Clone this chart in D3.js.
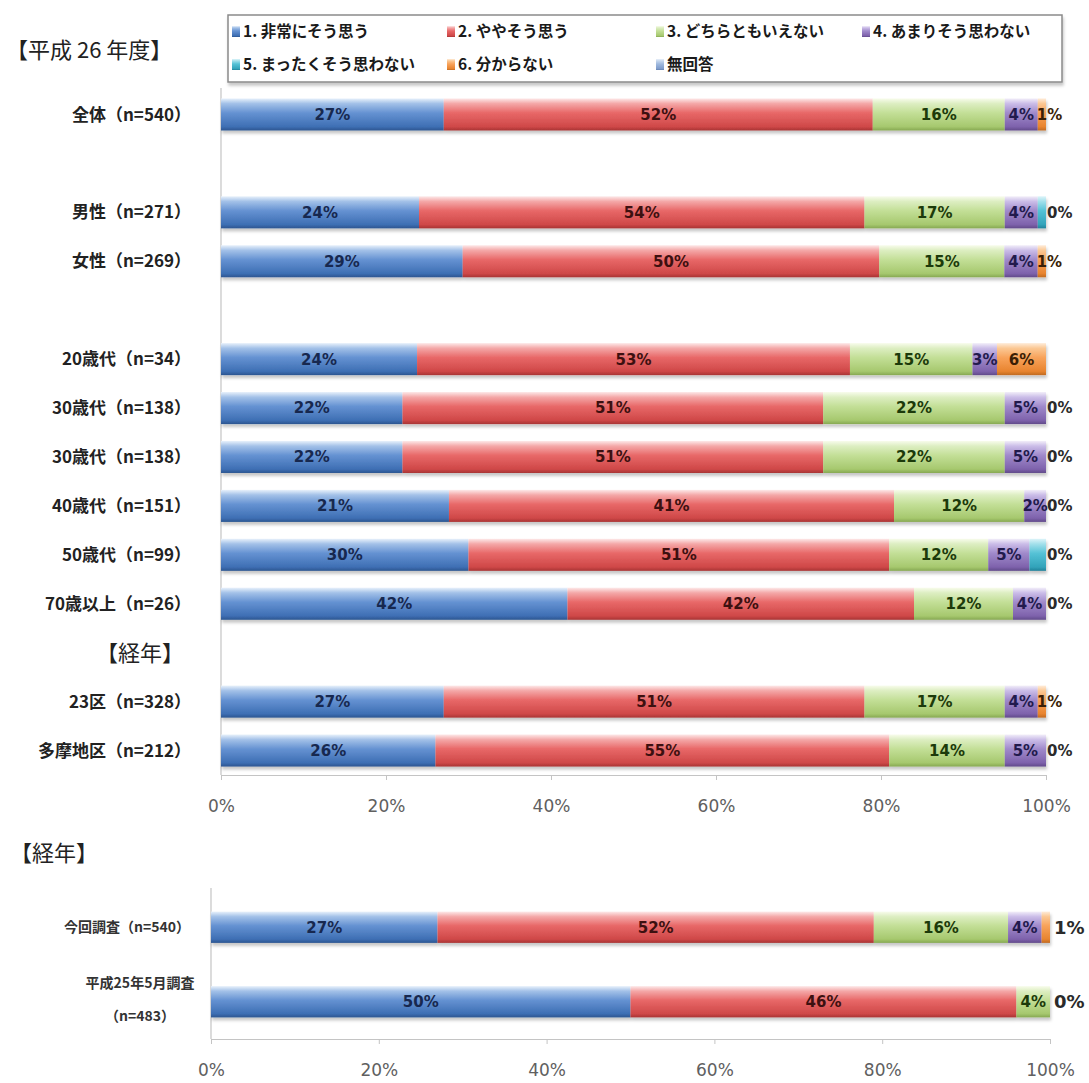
<!DOCTYPE html>
<html>
<head>
<meta charset="utf-8">
<script src="https://cdn.jsdelivr.net/npm/d3@7"></script>
<style>
  body { margin: 0; background: #fff; }
  svg { display: block; }
</style>
</head>
<body>
<svg id="chart" width="1089" height="1083"></svg>
<script>
// Answer options, in stacking / legend order
const seriesNames = ["1.  非常にそう思う", "2.  ややそう思う", "3.  どちらともいえない", "4.  あまりそう思わない",
                     "5.  まったくそう思わない", "6.  分からない", "無回答"];

// 平成26年度 breakdown ("" = spacer row, 【経年】 = sub-heading row)
const topCategories = ["全体（n=540）", "", "男性（n=271）", "女性（n=269）", "", "20歳代（n=34）",
                       "30歳代（n=138）", "30歳代（n=138）", "40歳代（n=151）", "50歳代（n=99）",
                       "70歳以上（n=26）", "【経年】", "23区（n=328）", "多摩地区（n=212）"];
const topVeryMuch    = [27, null, 24, 29, null, 24, 22, 22, 21, 30, 42, null, 27, 26];
const topSomewhat    = [52, null, 54, 50, null, 53, 51, 51, 41, 51, 42, null, 51, 55];
const topNeutral     = [16, null, 17, 15, null, 15, 22, 22, 12, 12, 12, null, 17, 14];
const topNotMuch     = [ 4, null,  4,  4, null,  3,  5,  5,  2,  5,  4, null,  4,  5];
const topNotAtAll    = [ 0, null,  1,  0, null,  0,  0,  0,  0,  2,  0, null,  0,  0];
const topDontKnow    = [ 1, null,  0,  1, null,  6,  0,  0,  0,  0,  0, null,  1,  0];
const topNoAnswer    = [ 0, null,  0,  0, null,  0,  0,  0,  0,  0,  0, null,  0,  0];

// Year-on-year comparison
const yearCategories = [["今回調査（n=540）"], ["平成25年5月調査", "（n=483）"]];
const yearVeryMuch   = [27, 50];
const yearSomewhat   = [52, 46];
const yearNeutral    = [16,  4];
const yearNotMuch    = [ 4,  0];
const yearNotAtAll   = [ 0,  0];
const yearDontKnow   = [ 1,  0];
const yearNoAnswer   = [ 0,  0];

const axisTicks = [0, 0.2, 0.4, 0.6, 0.8, 1];

// ---- styling ----
const palette = [
  ["#e8f1fb", "#a3c1e8", "#6592d2", "#3e6fb4", "#2c5590"],   // blue
  ["#fde9e9", "#f4a8a8", "#e86868", "#cf4848", "#a83434"],   // red
  ["#f8fcec", "#ddeec2", "#c3df97", "#a6c86e", "#86a852"],   // green
  ["#f2eef9", "#cbbde8", "#a08acb", "#7e62ac", "#614a8a"],   // purple
  ["#ddf4f9", "#a3e0eb", "#55c2d6", "#32a3ba", "#23829a"],   // cyan
  ["#feecda", "#fbc894", "#f8a35b", "#e8842f", "#c06a22"],   // orange
  ["#e9f0f9", "#c7d8ee", "#9fb9de", "#7f9ccb", "#6682b0"]    // light blue (無回答)
];
const labelColors = ["#17284f", "#3d1010", "#1c3a0a", "#221a4d", "#0e3340", "#3a1e05", "#222"];
const jpFont = "'Noto Sans CJK JP', 'Noto Sans', sans-serif";
const numFont = "'DejaVu Sans', Verdana, sans-serif";

const keys = seriesNames.map((_, i) => "s" + i);
const svg = d3.select("#chart");
const defs = svg.append("defs");

palette.forEach((c, i) => {
  const g = defs.append("linearGradient").attr("id", "grad" + i)
    .attr("x1", 0).attr("y1", 0).attr("x2", 0).attr("y2", 1);
  [[0, c[0]], [0.16, c[1]], [0.45, c[2]], [0.88, c[3]], [1, c[4]]].forEach(([o, col]) =>
    g.append("stop").attr("offset", o).attr("stop-color", col));
});
const shadow = defs.append("filter").attr("id", "shadow")
  .attr("x", "-5%").attr("y", "-20%").attr("width", "110%").attr("height", "160%");
shadow.append("feDropShadow").attr("dx", 1).attr("dy", 3).attr("stdDeviation", 1.6)
  .attr("flood-color", "#000").attr("flood-opacity", 0.22);

function buildRows(cats, cols) {
  return cats.map((c, i) => {
    const r = { idx: i, cat: c, spacer: cols[0][i] == null };
    cols.forEach((col, k) => { r[keys[k]] = col[i] == null ? 0 : col[i]; });
    return r;
  });
}

const stack = d3.stack().keys(keys).offset(d3.stackOffsetExpand);

function drawBars(rows, x, y, opts) {
  const dataRows = rows.filter(r => !r.spacer);
  const layers = stack(dataRows);
  const g = svg.append("g").attr("filter", "url(#shadow)");
  g.selectAll("g.layer").data(layers).join("g")
    .attr("class", "layer")
    .attr("fill", (d, i) => `url(#grad${i})`)
    .selectAll("rect").data(d => d).join("rect")
      .attr("x", d => x(d[0]))
      .attr("width", d => Math.max(0, x(d[1]) - x(d[0])))
      .attr("y", d => y(d.data.idx))
      .attr("height", y.bandwidth());

  // value labels
  const lg = svg.append("g");
  layers.forEach((layer, si) => {
    layer.forEach(d => {
      const v = d.data[keys[si]];
      const show = (si <= 3 && v > 0) || si === 5;
      if (!show) return;
      const outside = v === 0 || (si === 5 && opts.dontKnowOutside);
      const narrow = !outside && (x(d[1]) - x(d[0])) < 14;
      const t = lg.append("text")
        .attr("y", y(d.data.idx) + y.bandwidth() / 2)
        .attr("dy", "0.36em")
        .attr("font-family", numFont)
        .attr("font-weight", "bold")
        .text(v + "%");
      if (outside) {
        t.attr("x", x(1) + opts.outsideGap).attr("text-anchor", "start")
          .attr("font-size", opts.outsideSize).attr("fill", "#2a2a2a");
      } else if (narrow) {
        // a sliver at the bar's end: start the label at the sliver
        t.attr("x", x(d[0]) - 1).attr("text-anchor", "start")
          .attr("font-size", opts.labelSize).attr("fill", labelColors[si]);
      } else {
        t.attr("x", (x(d[0]) + x(d[1])) / 2).attr("text-anchor", "middle")
          .attr("font-size", opts.labelSize).attr("fill", labelColors[si]);
      }
    });
  });
}

function drawAxes(x, y, top, bottom, fontSize) {
  svg.append("line").attr("x1", x(0)).attr("x2", x(0)).attr("y1", top).attr("y2", bottom)
    .attr("stroke", "#c4c4c4").attr("stroke-width", 1.2);
  const ax = svg.append("g").attr("transform", `translate(0,${bottom})`)
    .call(d3.axisBottom(x).tickValues(axisTicks).tickFormat(d3.format(".0%"))
      .tickSize(5).tickSizeOuter(0).tickPadding(20));
  ax.select(".domain").attr("stroke", "#c4c4c4").attr("stroke-width", 1.2);
  ax.selectAll(".tick line").attr("stroke", "#c4c4c4");
  ax.selectAll(".tick text").attr("font-family", numFont).attr("font-size", fontSize)
    .attr("fill", "#606060");
}

// ---- heading ----
svg.append("text").attr("x", 6).attr("y", 50).attr("dy", "0.36em")
  .attr("font-family", jpFont).attr("font-size", 22).attr("fill", "#222")
  .text("【平成 26 年度】");

// ---- legend ----
const legend = svg.append("g");
legend.append("rect").attr("x", 228).attr("y", 15).attr("width", 834).attr("height", 67)
  .attr("fill", "#fff").attr("stroke", "#8a8a8a").attr("stroke-width", 1.5)
  .attr("filter", "url(#shadow)");
const legendCols = [232, 447, 656, 862];
seriesNames.forEach((name, i) => {
  const col = i < 4 ? i : i - 4;
  const cy = i < 4 ? 31 : 64;
  const gx = legendCols[col];
  legend.append("rect").attr("x", gx).attr("y", cy - 5).attr("width", 8).attr("height", 11)
    .attr("fill", `url(#grad${i})`);
  legend.append("text").attr("x", gx + 11).attr("y", cy).attr("dy", "0.36em")
    .attr("font-family", jpFont).attr("font-weight", "bold").attr("font-size", 15.5)
    .attr("fill", "#1a1a1a").text(name);
});

// ---- main chart ----
const topRows = buildRows(topCategories,
  [topVeryMuch, topSomewhat, topNeutral, topNotMuch, topNotAtAll, topDontKnow, topNoAnswer]);
const xTop = d3.scaleLinear().domain([0, 1]).range([221, 1046]);
const yTop = d3.scaleBand().domain(topRows.map(r => r.idx)).range([90, 775])
  .paddingInner(0.345).paddingOuter(0.1725);

drawAxes(xTop, yTop, 88, 775, 17);
drawBars(topRows, xTop, yTop, { labelSize: 15, outsideSize: 15, outsideGap: 1, dontKnowOutside: false });

topRows.forEach(r => {
  if (!r.cat) return;
  const cy = yTop(r.idx) + yTop.bandwidth() / 2;
  if (r.spacer) {
    svg.append("text").attr("x", 140).attr("y", cy).attr("dy", "0.36em")
      .attr("text-anchor", "middle").attr("font-family", jpFont).attr("font-size", 22)
      .attr("fill", "#222").text(r.cat);
  } else {
    svg.append("text").attr("x", 191).attr("y", cy).attr("dy", "0.36em")
      .attr("text-anchor", "end").attr("font-family", jpFont).attr("font-weight", "bold")
      .attr("font-size", 17).attr("fill", "#222").text(r.cat);
  }
});

// ---- year-on-year chart ----
svg.append("text").attr("x", 10).attr("y", 853).attr("dy", "0.36em")
  .attr("font-family", jpFont).attr("font-size", 22).attr("fill", "#222").text("【経年】");

const yearRows = buildRows(yearCategories,
  [yearVeryMuch, yearSomewhat, yearNeutral, yearNotMuch, yearNotAtAll, yearDontKnow, yearNoAnswer]);
const xYear = d3.scaleLinear().domain([0, 1]).range([211, 1050]);
const yYear = d3.scaleBand().domain(yearRows.map(r => r.idx)).range([890, 1039])
  .paddingInner(0.58).paddingOuter(0.29);

drawAxes(xYear, yYear, 888, 1039, 17);
drawBars(yearRows, xYear, yYear, { labelSize: 15, outsideSize: 18, outsideGap: 4, dontKnowOutside: true });

yearRows.forEach(r => {
  const cy = yYear(r.idx) + yYear.bandwidth() / 2;
  const lines = r.cat;
  if (lines.length === 1) {
    svg.append("text").attr("x", 190).attr("y", cy).attr("dy", "0.36em")
      .attr("text-anchor", "end").attr("font-family", jpFont).attr("font-weight", "bold")
      .attr("font-size", 14).attr("fill", "#333").text(lines[0]);
  } else {
    lines.forEach((ln, li) => {
      svg.append("text").attr("x", 140).attr("y", cy - 19 + li * 33).attr("dy", "0.36em")
        .attr("text-anchor", "middle").attr("font-family", jpFont).attr("font-weight", "bold")
        .attr("font-size", 14).attr("fill", "#333").text(ln);
    });
  }
});
</script>
</body>
</html>
